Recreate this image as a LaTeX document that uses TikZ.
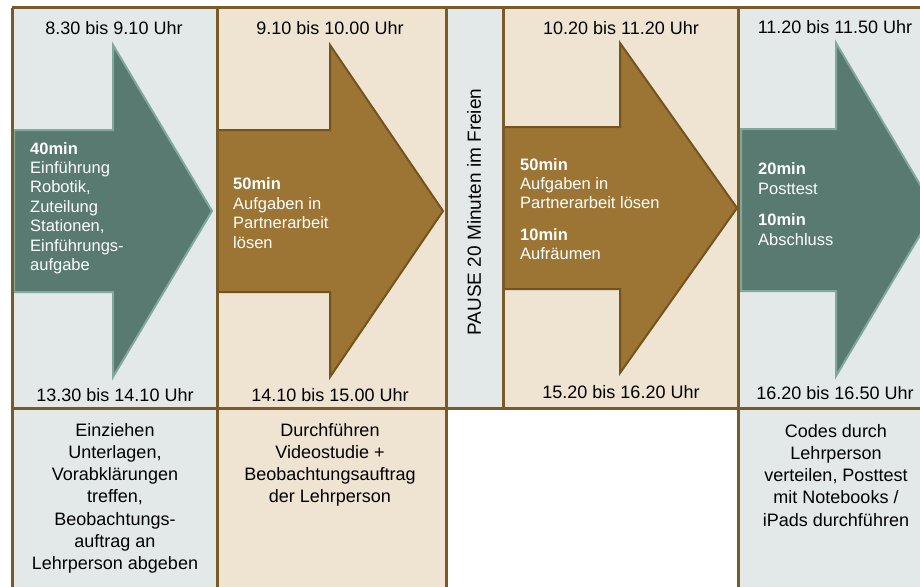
\documentclass[tikz,border=0pt]{standalone}
\usepackage{fontspec}
\setmainfont{Liberation Sans}

\definecolor{cellgray}{HTML}{E3E9E9}
\definecolor{cellbeige}{HTML}{EFE3D2}
\definecolor{gridbrown}{HTML}{7A5A28}
\definecolor{tealfill}{HTML}{587A70}
\definecolor{tealedge}{HTML}{80A89C}
\definecolor{ochrefill}{HTML}{9C7534}
\definecolor{ochreedge}{HTML}{73541F}

\tikzset{
  timelabel/.style={font=\fontsize{18}{22}\selectfont, inner sep=0pt},
  arrowtext/.style={font=\fontsize{16.5}{19.4}\selectfont, text=white, align=left, anchor=west, inner sep=0pt},
  notetext/.style={font=\fontsize{18}{22.2}\selectfont, align=center, anchor=north, inner sep=0pt},
  gridline/.style={draw=gridbrown, line width=3pt},
  tealarrow/.style={fill=tealfill, draw=tealedge, line width=2pt},
  ochrearrow/.style={fill=ochrefill, draw=ochreedge, line width=2pt},
}

\begin{document}
\begin{tikzpicture}[x=1pt, y=-1pt]
  \useasboundingbox (0,0) rectangle (920,586);
  \clip (0,0) rectangle (920,586);
  % cells
  \fill[cellgray] (12,8) rectangle (217,590);
  \fill[cellbeige] (217,8) rectangle (446,590);
  \fill[cellgray] (446,8) rectangle (503,408);
  \fill[cellbeige] (503,8) rectangle (738,408);
  \fill[cellgray] (738,8) rectangle (945,590);
  % arrows
  \draw[tealarrow] (14,130) -- (113,130) -- (113,45) -- (212,211) -- (113,377) -- (113,292) -- (14,292) -- cycle;
  \draw[ochrearrow] (217,130) -- (330,130) -- (330,45) -- (443,211) -- (330,377) -- (330,292) -- (217,292) -- cycle;
  \draw[ochrearrow] (503,127) -- (620,127) -- (620,43) -- (737,208) -- (620,373) -- (620,289) -- (503,289) -- cycle;
  \draw[tealarrow] (741,129) -- (836,129) -- (836,43) -- (935,210) -- (836,376) -- (836,291) -- (741,291) -- cycle;
  % grid
  \draw[gridline] (12,8) -- (945,8);
  \draw[gridline] (12,408) -- (945,408);
  \foreach \x in {12,217,446,738}
    \draw[gridline] (\x,8) -- (\x,590);
  \draw[gridline] (503,8) -- (503,408);
  % times
  \node[timelabel] (start1) at (114,28) {8.30 bis 9.10 Uhr};
  \node[timelabel] (start2) at (330,28) {9.10 bis 10.00 Uhr};
  \node[timelabel] (start3) at (621,28) {10.20 bis 11.20 Uhr};
  \node[timelabel] (start4) at (835,27) {11.20 bis 11.50 Uhr};
  \node[timelabel] (end1) at (115,395) {13.30 bis 14.10 Uhr};
  \node[timelabel] (end2) at (330,395) {14.10 bis 15.00 Uhr};
  \node[timelabel] (end3) at (621,392) {15.20 bis 16.20 Uhr};
  \node[timelabel] (end4) at (835,393) {16.20 bis 16.50 Uhr};
  \node[timelabel, font=\fontsize{19}{22}\selectfont, rotate=90] (pause) at (474,212) {PAUSE 20 Minuten im Freien};
  % arrow texts
  \node[arrowtext] (task1) at (30,208) {\textbf{40min}\\Einführung\\Robotik,\\Zuteilung\\Stationen,\\Einführungs-\\aufgabe};
  \node[arrowtext] (task2) at (233,213) {\textbf{50min}\\Aufgaben in\\Partnerarbeit\\lösen};
  \node[arrowtext] (task3) at (520,209) {\textbf{50min}\\Aufgaben in\\Partnerarbeit lösen\\[12pt]\textbf{10min}\\Aufräumen};
  \node[arrowtext] (task4) at (758,204) {\textbf{20min}\\Posttest\\[12pt]\textbf{10min}\\Abschluss};
  % notes
  \node[notetext] (note1) at (115,423) {Einziehen\\Unterlagen,\\Vorabklärungen\\treffen,\\Beobachtungs-\\auftrag an\\Lehrperson abgeben};
  \node[notetext] (note2) at (330,423) {Durchführen\\Videostudie +\\Beobachtungsauftrag\\der Lehrperson};
  \node[notetext] (note4) at (836,424) {Codes durch\\Lehrperson\\verteilen, Posttest\\mit Notebooks /\\iPads durchführen};
\end{tikzpicture}
\end{document}
